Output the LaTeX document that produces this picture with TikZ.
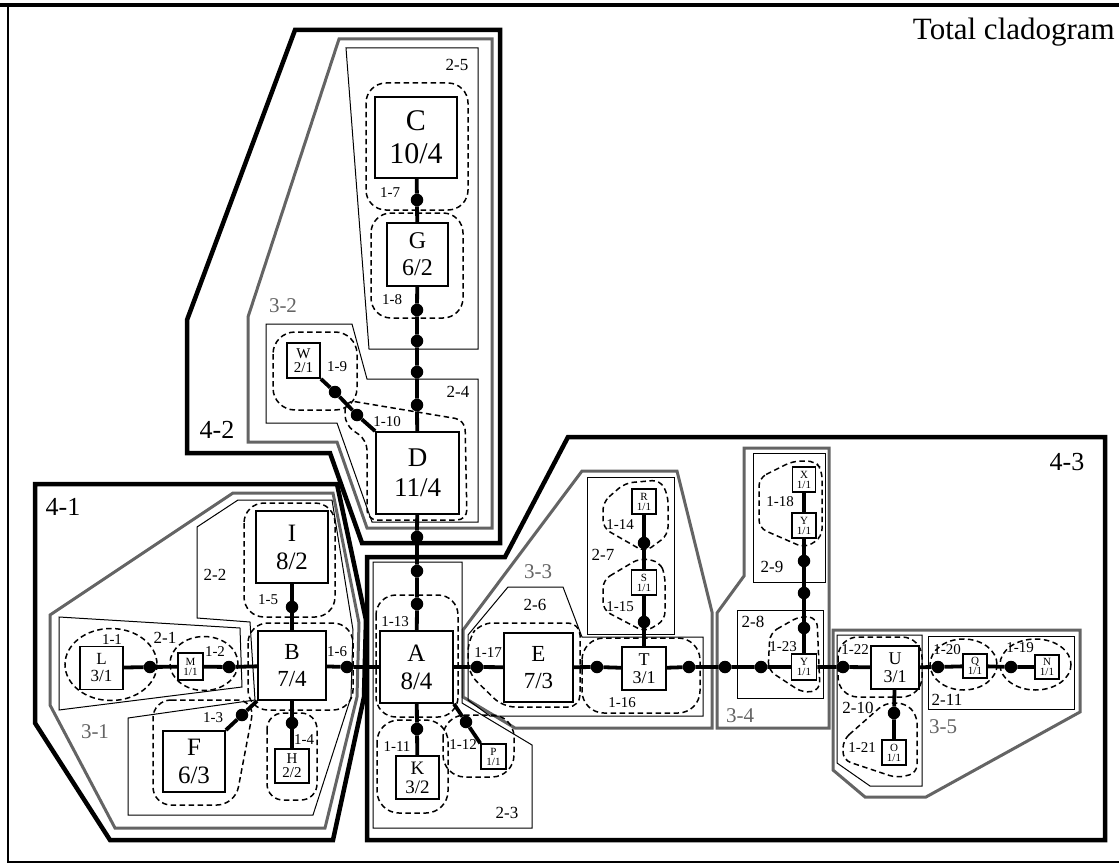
\documentclass[tikz,border=0pt]{standalone}
\usepackage{fontspec}
\setmainfont{Liberation Serif}
\definecolor{gthree}{RGB}{100,100,100}
\begin{document}
\begin{tikzpicture}[x=1pt,y=-1pt,
  box/.style={draw, line width=1.8pt, fill=white, inner sep=0pt, align=center, rectangle},
  bigbox/.style={box, font=\fontsize{25}{28}\selectfont},
  midbox/.style={box, font=\fontsize{18}{18}\selectfont},
  smallbox/.style={box, font=\fontsize{15}{14}\selectfont},
  tinybox/.style={box, line width=1.5pt, font=\fontsize{11}{10}\selectfont},
  dot/.style={circle, fill=black, inner sep=0pt, minimum size=12.5pt},
  axis/.style={line width=3.8pt},
  dsh/.style={dash pattern=on 5.5pt off 3.5pt, line width=1.5pt},
  regtwo/.style={line width=1pt},
  regthree/.style={line width=3pt, draw=gthree, line join=miter},
  regfour/.style={line width=4.5pt, line join=miter},
  lone/.style={font=\fontsize{15}{15}\selectfont, inner sep=0pt},
  ltwo/.style={font=\fontsize{17}{17}\selectfont, inner sep=0pt},
  lthree/.style={font=\fontsize{21}{21}\selectfont, text=gthree, inner sep=0pt},
  lfour/.style={font=\fontsize{26}{26}\selectfont, inner sep=0pt}]
\useasboundingbox (0,0) rectangle (1119,864);
% frame
\draw[line width=4pt] (0,5) -- (1119,5);
\draw[line width=1.5pt] (8,5) -- (8,862) -- (1119,862);
\node[anchor=east, font=\fontsize{31}{31}\selectfont, inner sep=0pt] (title) at (1115,32) {Total cladogram};

% level 4 regions
\draw[regfour] (35,484) -- (337,484) -- (366,620) -- (364,697) -- (333,840) -- (110,840) -- (35,723) -- cycle;
\draw[regfour] (295,30) -- (500,30) -- (500,543) -- (362,543) -- (330,453) -- (187,453) -- (187,320) -- cycle;
\draw[regfour] (568,437) -- (1105,437) -- (1105,840) -- (367,840) -- (367,557) -- (505,557) -- cycle;
% level 3 regions
\draw[regthree] (233,493) -- (333,493) -- (359,623) -- (357,697) -- (325,828) -- (115,828) -- (50,705) -- (50,615) -- cycle;
\draw[regthree] (339,39) -- (492,39) -- (492,528) -- (367,528) -- (337,442) -- (248,442) -- (248,317) -- cycle;
\draw[regthree] (463,630) -- (582,471) -- (677,471) -- (712,612) -- (712,728) -- (515,728) -- (463,697) -- cycle;
\draw[regthree] (744,448) -- (829,448) -- (829,728) -- (717,728) -- (717,613) -- (744,576) -- cycle;
\draw[regthree] (833,630) -- (1080,630) -- (1080,712) -- (926,797) -- (865,797) -- (833,770) -- cycle;
% level 2 regions
\draw[regtwo] (59,617) -- (240,628) -- (242,687) -- (59,710) -- cycle;
\draw[regtwo] (197,527) -- (238,500) -- (332,500) -- (353,630) -- (351,697) -- (313,815) -- (128,815) -- (128,718) -- (255,700) -- (250,622) -- (197,618) -- cycle;
\draw[regtwo] (346,48) -- (478,48) -- (478,349) -- (369,349) -- cycle;
\draw[regtwo] (266,324) -- (352,324) -- (367,379) -- (478,379) -- (478,522) -- (372,522) -- (337,423) -- (266,423) -- cycle;
\draw[regtwo] (373,562) -- (462,562) -- (462,703) -- (532,745) -- (532,828) -- (373,828) -- cycle;
\draw[regtwo] (468,635) -- (508,587) -- (563,587) -- (582,637) -- (703,637) -- (703,716) -- (490,716) -- (468,700) -- cycle;
\draw[regtwo] (587,477) rectangle (674,634);
\draw[regtwo] (753,453) rectangle (825,582);
\draw[regtwo] (737,610) rectangle (823,698);
\draw[regtwo] (837,635) -- (922,635) -- (922,786) -- (870,786) -- (837,763) -- cycle;
\draw[regtwo] (928,636) rectangle (1074,709);

% level 1 dashed regions
\draw[dsh] (111,664.5) ellipse (46 and 36);
\draw[dsh] (204,663.5) ellipse (34 and 27);
\draw[dsh, rounded corners=20] (244,503) rectangle (335,617);
\draw[dsh, rounded corners=20] (248,623) rectangle (353,710);
\draw[dsh, rounded corners=18] (153,700) -- (255,700) -- (235,805) -- (153,805) -- cycle;
\draw[dsh, rounded corners=16] (267,713) rectangle (317,800);
\draw[dsh, rounded corners=20] (366,83) rectangle (468,210);
\draw[dsh, rounded corners=20] (371,213) rectangle (463,318);
\draw[dsh, rounded corners=22] (273,332) rectangle (357,410);
\draw[dsh, rounded corners=10] (345,400) -- (465,420) -- (467,520) -- (367,520) -- (367,440) -- (345,425) -- cycle;
\draw[dsh, rounded corners=20] (376,595) rectangle (458,717);
\draw[dsh, rounded corners=22] (377,720) rectangle (448,813);
\draw[dsh, rounded corners=22] (443,715) rectangle (514,777);
\draw[dsh, rounded corners=12] (468,640) -- (480,623) -- (580,623) -- (580,707) -- (503,707) -- (468,673) -- cycle;
\draw[dsh, rounded corners=22] (582,638) rectangle (700,713);
\draw[dsh, rounded corners=8] (603,502) -- (625,483) -- (660,480) -- (668,495) -- (668,535) -- (645,552) -- (603,528) -- cycle;
\draw[dsh, rounded corners=8] (603,580) -- (640,558) -- (660,562) -- (665,575) -- (665,620) -- (645,632) -- (603,610) -- cycle;
\draw[dsh, rounded corners=8] (759,478) -- (793,461) -- (815,461) -- (822,470) -- (822,537) -- (805,548) -- (759,528) -- cycle;
\draw[dsh, rounded corners=8] (770,633) -- (800,616) -- (817,618) -- (820,690) -- (803,693) -- (768,670) -- cycle;
\draw[dsh, rounded corners=20] (838,637) rectangle (922,697);
\draw[dsh] (963.5,664.5) ellipse (33.5 and 25.5);
\draw[dsh] (1035.5,664.5) ellipse (35.5 and 25.5);
\draw[dsh, rounded corners=8] (843,740) -- (885,703) -- (905,703) -- (917,715) -- (917,773) -- (897,778) -- (843,760) -- cycle;

% taxa boxes
\node[bigbox, font=\fontsize{30}{33}\selectfont, minimum width=82pt, minimum height=81pt] (C) at (416,137.5) {C\\10/4};
\node[bigbox, font=\fontsize{24}{27}\selectfont, minimum width=61pt, minimum height=63pt] (G) at (417.5,254.5) {G\\6/2};
\node[bigbox, font=\fontsize{27}{30}\selectfont, minimum width=83pt, minimum height=82pt] (D) at (417.5,473) {D\\11/4};
\node[smallbox, minimum width=33pt, minimum height=35pt] (W) at (303.5,360.5) {W\\2/1};
\node[bigbox, minimum width=72pt, minimum height=72pt] (I) at (292,547) {I\\8/2};
\node[bigbox, font=\fontsize{23}{27}\selectfont, minimum width=68pt, minimum height=69pt] (B) at (292,665.5) {B\\7/4};
\node[midbox, font=\fontsize{17}{17}\selectfont, minimum width=43pt, minimum height=43pt] (L) at (101.5,668) {L\\3/1};
\node[tinybox, minimum width=25pt, minimum height=27pt] (M) at (190.5,666.5) {M\\1/1};
\node[bigbox, minimum width=62pt, minimum height=61pt] (F) at (194,761.5) {F\\6/3};
\node[smallbox, minimum width=34pt, minimum height=34pt] (H) at (292,766) {H\\2/2};
\node[bigbox, minimum width=73pt, minimum height=72pt] (A) at (416.5,667) {A\\8/4};
\node[midbox, font=\fontsize{19}{19}\selectfont, minimum width=43pt, minimum height=43pt] (K) at (417.5,777.5) {K\\3/2};
\node[tinybox, minimum width=25pt, minimum height=25pt] (P) at (493.5,756.5) {P\\1/1};
\node[bigbox, font=\fontsize{23}{27}\selectfont, minimum width=69pt, minimum height=69pt] (E) at (538.5,667.5) {E\\7/3};
\node[midbox, minimum width=44pt, minimum height=43pt] (T) at (644,668.5) {T\\3/1};
\node[tinybox, minimum width=25pt, minimum height=25pt] (S) at (644,582.5) {S\\1/1};
\node[tinybox, minimum width=24pt, minimum height=25pt] (R) at (644,501.5) {R\\1/1};
\node[tinybox, minimum width=25pt, minimum height=26pt] (Ylo) at (804,667) {Y\\1/1};
\node[tinybox, minimum width=24pt, minimum height=25pt] (Yup) at (804,525.5) {Y\\1/1};
\node[tinybox, minimum width=23pt, minimum height=25pt] (X) at (804,479.5) {X\\1/1};
\node[midbox, minimum width=48pt, minimum height=43pt] (U) at (895,667.5) {U\\3/1};
\node[tinybox, minimum width=24pt, minimum height=25pt] (O) at (894,752.5) {O\\1/1};
\node[tinybox, minimum width=24pt, minimum height=24pt] (Q) at (975,666) {Q\\1/1};
\node[tinybox, minimum width=24pt, minimum height=24pt] (N) at (1047,667) {N\\1/1};

% character dots
\node[dot] (d11) at (150,667) {};
\node[dot] (d12) at (229,667) {};
\node[dot] (d16) at (347,667) {};
\node[dot] (d15) at (292,607) {};
\node[dot] (d14) at (292,723) {};
\node[dot] (d13) at (242,715) {};
\node[dot] (d17) at (417,200) {};
\node[dot] (d18) at (417,310) {};
\node[dot] (dga) at (417,341) {};
\node[dot] (dgb) at (417,372) {};
\node[dot] (dgc) at (417,405) {};
\node[dot] (d19) at (335,392) {};
\node[dot] (d110) at (357,415) {};
\node[dot] (dda) at (417,537) {};
\node[dot] (ddb) at (417,571) {};
\node[dot] (d113) at (417,604) {};
\node[dot] (d111) at (417,729) {};
\node[dot] (d112) at (466,722) {};
\node[dot] (d117) at (477,667) {};
\node[dot] (dta) at (597,667) {};
\node[dot] (dtb) at (689,667) {};
\node[dot] (dm) at (725,667) {};
\node[dot] (d28) at (761,667) {};
\node[dot] (d115) at (644,622) {};
\node[dot] (d114) at (644,543) {};
\node[dot] (dva) at (804,628) {};
\node[dot] (dvb) at (804,593) {};
\node[dot] (dvc) at (804,561) {};
\node[dot] (d122) at (843,667) {};
\node[dot] (d120) at (938,667) {};
\node[dot] (d119) at (1011,667) {};
\node[dot] (d121) at (894,713) {};

% cladogram branches
\draw[axis] (L) -- (d11) -- (M) -- (d12) -- (B) -- (d16) -- (A) -- (d117) -- (E) -- (dta) -- (T) -- (dtb) -- (dm) -- (d28) -- (Ylo) -- (d122) -- (U) -- (d120) -- (Q) -- (d119) -- (N);
\draw[axis] (B) -- (d15) -- (I);
\draw[axis] (B) -- (d14) -- (H);
\draw[axis] (B.south west) -- (d13) -- (F.north east);
\draw[axis] (C) -- (d17) -- (G) -- (d18) -- (dga) -- (dgb) -- (dgc) -- (D) -- (dda) -- (ddb) -- (d113) -- (A);
\draw[axis] (W.south east) -- (d19) -- (d110) -- (D.north west);
\draw[axis] (A) -- (d111) -- (K);
\draw[axis] (A.south east) -- (d112) -- (P.north west);
\draw[axis] (T) -- (d115) -- (S) -- (d114) -- (R);
\draw[axis] (Ylo) -- (dva) -- (dvb) -- (dvc) -- (Yup) -- (X);
\draw[axis] (U) -- (d121) -- (O);

% labels
\node[lone] (l11) at (112,640) {1-1};
\node[ltwo] (l21) at (165,638) {2-1};
\node[lone] (l12) at (215,652) {1-2};
\node[ltwo] (l22) at (215,575) {2-2};
\node[lone] (l15) at (268,600) {1-5};
\node[lone] (l16) at (337,652) {1-6};
\node[lone] (l13) at (213,718) {1-3};
\node[lone] (l14) at (304,740) {1-4};
\node[lthree] (l31) at (95,732) {3-1};
\node[lfour] (l41) at (63,507) {4-1};
\node[lone] (l17) at (390,193) {1-7};
\node[lone] (l18) at (392,300) {1-8};
\node[ltwo] (l25) at (457,65) {2-5};
\node[lthree] (l32) at (283,306) {3-2};
\node[ltwo] (l24) at (458,392) {2-4};
\node[lone] (l19) at (337,367) {1-9};
\node[lone] (l110) at (387,422) {1-10};
\node[lfour] (l42) at (217,430) {4-2};
\node[lone] (l113) at (395,622) {1-13};
\node[lone] (l111) at (397,747) {1-11};
\node[lone] (l112) at (463,745) {1-12};
\node[ltwo] (l23) at (507,813) {2-3};
\node[lone] (l117) at (488,653) {1-17};
\node[lthree] (l33) at (538,572) {3-3};
\node[ltwo] (l26) at (535,605) {2-6};
\node[ltwo] (l27) at (603,555) {2-7};
\node[lone] (l114) at (620,525) {1-14};
\node[lone] (l115) at (620,607) {1-15};
\node[lone] (l116) at (622,703) {1-16};
\node[lone] (l118) at (780,502) {1-18};
\node[ltwo] (l29) at (772,567) {2-9};
\node[ltwo] (l28) at (753,622) {2-8};
\node[lone] (l123) at (783,647) {1-23};
\node[lthree] (l34) at (740,716) {3-4};
\node[lone] (l122) at (855,650) {1-22};
\node[lone] (l120) at (947,650) {1-20};
\node[lone] (l119) at (1020,648) {1-19};
\node[lone] (l121) at (862,748) {1-21};
\node[ltwo] (l210) at (858,708) {2-10};
\node[ltwo] (l211) at (947,700) {2-11};
\node[lthree] (l35) at (943,727) {3-5};
\node[lfour] (l43) at (1067,462) {4-3};
\end{tikzpicture}
\end{document}
